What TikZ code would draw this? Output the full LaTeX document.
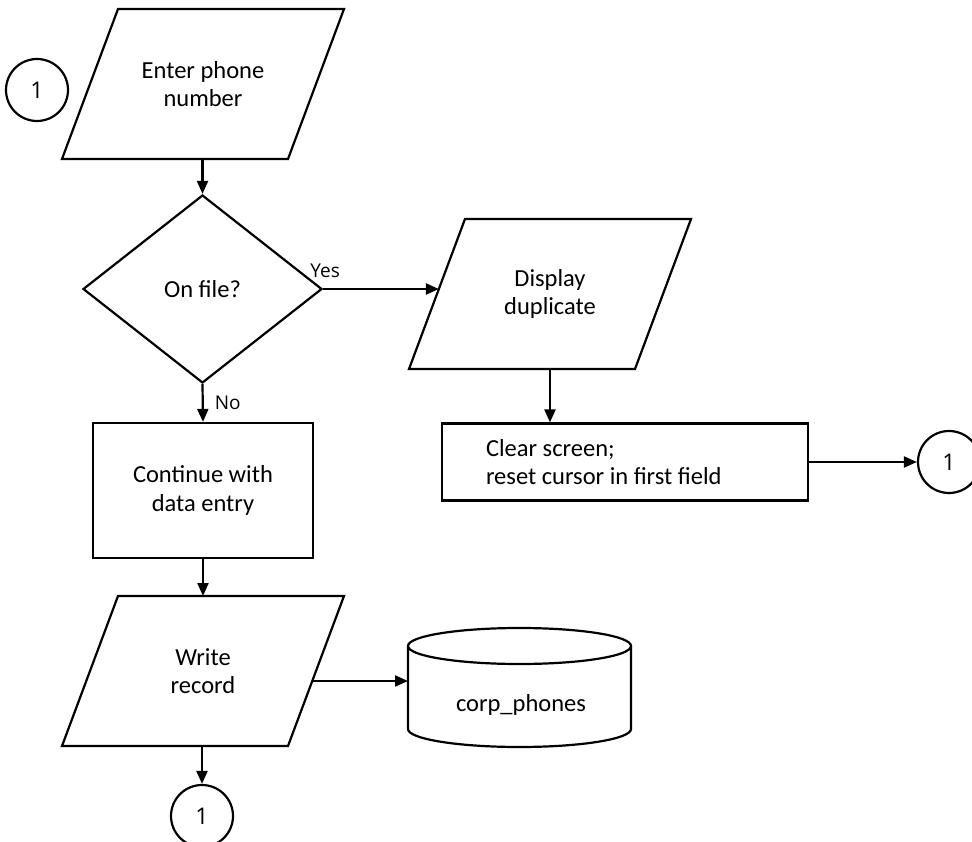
\documentclass[tikz,border=0pt]{standalone}
\usepackage{fontspec}
\setmainfont{Carlito}
\newfontfamily\lblfont{Open Sans}
\usetikzlibrary{shapes.geometric,arrows.meta,calc}
\newcommand\drawpara[1]{%
  \coordinate (#1TL) at ($(#1.north west)+(56,0)$);
  \coordinate (#1BR) at ($(#1.south east)+(-56,0)$);
  \draw[base] (#1.south west) -- (#1TL) -- (#1.north east) -- (#1BR) -- cycle;}
\begin{document}
\begin{tikzpicture}[x=1pt,y=-1pt,
  every node/.style={font=\fontsize{24.5}{28.5}\selectfont},
  base/.style={draw, line width=2.2pt},
  io/.style={rectangle, minimum width=282pt, minimum height=150pt,
    inner sep=0pt, outer sep=0pt, align=center},
  proc/.style={base, rectangle, inner sep=0pt, align=center},
  decision/.style={base, diamond, minimum width=239pt, minimum height=188pt,
    inner sep=0pt, align=center},
  conn/.style={base, circle, minimum size=62pt, inner sep=0pt,
    font=\lblfont\fontsize{23}{26}\selectfont},
  arr/.style={line width=2.2pt, -{Triangle[length=13pt,width=11pt]}},
  lbl/.style={font=\lblfont\fontsize{19}{22}\selectfont, inner sep=0pt},
]
\useasboundingbox (0,0) rectangle (972,842);
\clip (0,0) rectangle (972,842);

\node[conn] (c1) at (37,90) {1};
\node[io] (enter) at (203,84) {Enter phone\\number};
\node[decision] (dia) at (202.5,289) {On file?};
\node[io] (disp) at (550,294) {Display\\duplicate};
\node[proc, minimum height=77pt, inner xsep=44pt, text width=278pt, align=flush left]
  (clr) at (625,462) {Clear screen;\\reset cursor in first field};
\node[conn] (c2) at (949,462) {1};
\node[proc, minimum width=220pt, minimum height=135pt] (cont) at (203,490.5)
  {Continue with\\data entry};
\node[io] (write) at (203,671) {Write\\record};
\node[inner sep=0pt, outer sep=0pt, minimum width=223pt, minimum height=119pt]
  (cyl) at (519.5,687.5) {};
\node (cyllbl) at (521,705) {corp\_phones};
\node[conn] (c3) at (202,816) {1};

% parallelogram outlines
\drawpara{enter}
\drawpara{disp}
\drawpara{write}

% cylinder outline
\draw[base] ($(cyl.north)+(0,18)$) ellipse [x radius=111.5pt, y radius=18pt];
\draw[base] ($(cyl.north west)+(0,18)$) -- ($(cyl.south west)+(0,-18)$)
  arc[start angle=180, end angle=360, x radius=111.5pt, y radius=18pt]
  -- ($(cyl.north east)+(0,18)$);

% connectors
\coordinate (dispL) at ($(disp.south west)!0.5333!(dispTL)$);
\coordinate (wr) at ($(writeBR)!0.4333!(write.north east)$);
\draw[arr] (enter.south -| dia.north) -- (dia.north);
\draw[arr] (dia.east) -- (dia.east -| dispL)
  node[lbl, pos=0, above=10pt, xshift=2pt] {Yes};
\draw[arr] (dia.south) -- (cont.north)
  node[lbl, midway, right=11pt] {No};
\draw[arr] (disp.south) -- (disp.south |- clr.north);
\draw[arr] (clr.east) -- (c2.west);
\draw[arr] (cont.south) -- (cont.south |- write.north);
\draw[arr] (write.south -| c3.north) -- (c3.north);
\draw[arr] (wr) -- (wr -| cyl.west);
\end{tikzpicture}
\end{document}
